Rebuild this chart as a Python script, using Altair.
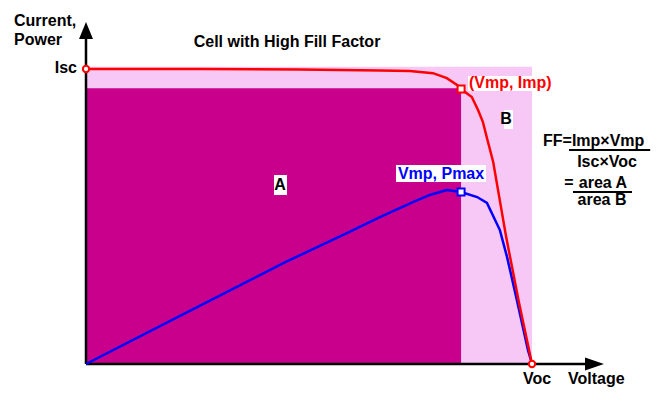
import altair as alt
import pandas as pd

# ---- values (V scaled so Voc = 1, I scaled so Isc = 1) ----
iv_voltage = [0.0, 0.256, 0.48, 0.569, 0.659, 0.726, 0.778, 0.809, 0.832, 0.841,
              0.865, 0.879, 0.890, 0.899, 0.913, 0.942, 0.971, 1.0]
iv_current = [1.0, 1.0, 0.998, 0.997, 0.995, 0.993, 0.986, 0.969, 0.946, 0.932,
              0.905, 0.861, 0.820, 0.766, 0.685, 0.431, 0.207, 0.0]
pv_voltage = [0.0, 0.224, 0.448, 0.585, 0.659, 0.733, 0.771, 0.809, 0.841,
              0.877, 0.899, 0.928, 0.944, 0.966, 0.991, 1.0]
pv_power = [0.0, 0.173, 0.346, 0.444, 0.498, 0.549, 0.573, 0.590, 0.583,
            0.566, 0.546, 0.454, 0.363, 0.217, 0.047, 0.0]

Isc = 1.0
Voc = 1.0
Vmp = 0.841
Imp = 0.932
Pmax = 0.583

FONT = "Liberation Sans"
DARK = "#C8008C"
LIGHT = "#F7C8F5"

XS = alt.Scale(domain=[-0.17489, 1.26906], nice=False, zero=False)
YS = alt.Scale(domain=[-0.09492, 1.20678], nice=False, zero=False)


def X(f="x"):
    return alt.X(f"{f}:Q", scale=XS, axis=None)


def Y(f="y"):
    return alt.Y(f"{f}:Q", scale=YS, axis=None)


def rect(df, color):
    return alt.Chart(df).mark_rect(color=color).encode(
        x=X("x"), x2=alt.X2("x2"), y=Y("y"), y2=alt.Y2("y2"))


# filled areas
area_b = rect(pd.DataFrame({"x": [0.0], "x2": [Voc], "y": [0.0], "y2": [Isc + 0.008]}), LIGHT)
area_a = rect(pd.DataFrame({"x": [0.0], "x2": [Vmp], "y": [0.0], "y2": [Imp + 0.003]}), DARK)

# white boxes behind labels
boxes = rect(pd.DataFrame({
    "x": [0.4215, 0.9372, 0.8565, 0.6951],
    "x2": [0.4507, 0.9574, 1.0471, 0.8969],
    "y": [0.5729, 0.7966, 0.9254, 0.6169],
    "y2": [0.6407, 0.861, 0.9763, 0.6746],
}), "white")

# axes
axes_df = pd.DataFrame({"x": [0.0, 0.0], "x2": [0.0, 1.125], "y": [0.0, 0.0], "y2": [1.115, 0.0]})
axes = alt.Chart(axes_df).mark_rule(color="black", strokeWidth=2.5).encode(
    x=X("x"), x2=alt.X2("x2"), y=Y("y"), y2=alt.Y2("y2"))
arrow_up = alt.Chart(pd.DataFrame({"x": [0.0], "y": [1.1305]})).mark_point(
    shape="M0,-1L0.82,1L-0.82,1Z", filled=True, color="black", opacity=1, size=289
).encode(x=X(), y=Y())
arrow_right = alt.Chart(pd.DataFrame({"x": [1.1401], "y": [0.0]})).mark_point(
    shape="M1,0L-1,-0.68L-1,0.68Z", filled=True, color="black", opacity=1, size=361
).encode(x=X(), y=Y())

# curves
iv_df = pd.DataFrame({"x": iv_voltage, "y": iv_current, "o": range(len(iv_voltage))})
pv_df = pd.DataFrame({"x": pv_voltage, "y": pv_power, "o": range(len(pv_voltage))})
pv_line = alt.Chart(pv_df).mark_line(color="#0000FF", strokeWidth=2.5).encode(
    x=X(), y=Y(), order="o:Q")
iv_line = alt.Chart(iv_df).mark_line(color="#FF0000", strokeWidth=2.5).encode(
    x=X(), y=Y(), order="o:Q")

# markers
circles = alt.Chart(pd.DataFrame({"x": [0.0, Voc], "y": [Isc, 0.0]})).mark_point(
    shape="circle", filled=False, fill="white", fillOpacity=1, opacity=1,
    stroke="#FF0000", strokeWidth=2, size=40).encode(x=X(), y=Y())
sq_red = alt.Chart(pd.DataFrame({"x": [Vmp], "y": [Imp]})).mark_point(
    shape="square", filled=False, fill="white", fillOpacity=1, opacity=1,
    stroke="#FF0000", strokeWidth=2, size=49).encode(x=X(), y=Y())
sq_blue = alt.Chart(pd.DataFrame({"x": [Vmp], "y": [Pmax]})).mark_point(
    shape="square", filled=False, fill="white", fillOpacity=1, opacity=1,
    stroke="#0000FF", strokeWidth=2, size=49).encode(x=X(), y=Y())


def texts(df, align="left", color="black", size=16):
    return alt.Chart(df).mark_text(
        align=align, baseline="middle", font=FONT, fontWeight="bold",
        fontSize=size, color=color).encode(x=X(), y=Y(), text="t:N")


left_black = texts(pd.DataFrame({
    "x": [-0.1614, -0.1614, 1.0247, 1.0807],
    "y": [1.1627, 1.0983, 0.756, -0.0508],
    "t": ["Current,", "Power", "FF=Imp×Vmp", "Voltage"],
}))
right_black = texts(pd.DataFrame({"x": [-0.0202], "y": [1.0034], "t": ["Isc"]}), align="right")
center_black = texts(pd.DataFrame({
    "x": [0.4507, 0.435, 0.9417, 1.1682, 1.083, 1.1592, 1.157, 1.0112],
    "y": [1.0915, 0.607, 0.829, 0.6847, 0.6136, 0.6136, 0.556, -0.0508],
    "t": ["Cell with High Fill Factor", "A", "B", "Isc×Voc", "=", "area A", "area B", "Voc"],
}), align="center")
red_text = texts(pd.DataFrame({"x": [0.8587], "y": [0.9525], "t": ["(Vmp, Imp)"]}), color="#FF0000")
blue_text = texts(pd.DataFrame({"x": [0.7960], "y": [0.644], "t": ["Vmp, Pmax"]}),
                  align="center", color="#0000FF")

# fraction bars
bars = alt.Chart(pd.DataFrame({
    "x": [1.083, 1.0919], "x2": [1.265, 1.2242], "y": [0.7254, 0.5831]
})).mark_rule(color="black", strokeWidth=2).encode(x=X("x"), x2=alt.X2("x2"), y=Y("y"))

chart = alt.layer(
    area_b, area_a, boxes, axes, arrow_up, arrow_right, pv_line, iv_line,
    circles, sq_red, sq_blue, left_black, right_black, center_black, red_text,
    blue_text, bars
).properties(
    width=644, height=384, padding=0, autosize=alt.AutoSizeParams(type="none")
).configure_view(stroke=None)

chart.save("out.html", embed_options={"renderer": "svg", "actions": False})
